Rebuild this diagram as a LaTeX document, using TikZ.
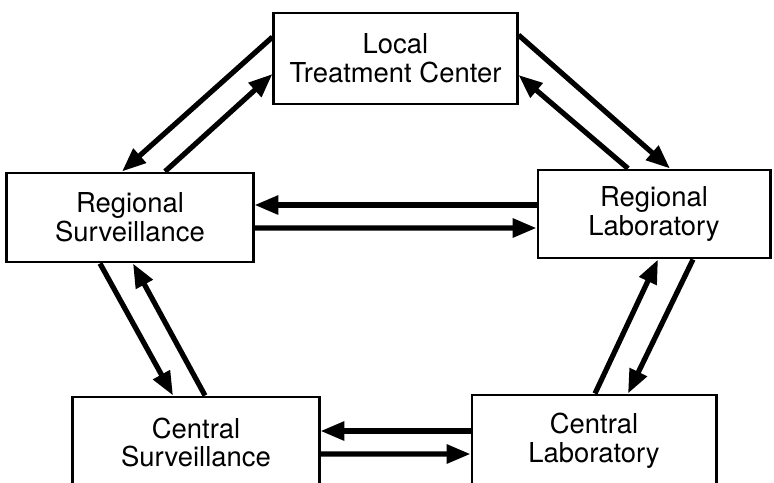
\documentclass[tikz,border=0pt]{standalone}
\usepackage{fontspec}
\setmainfont{TeX Gyre Heros}
\usetikzlibrary{arrows.meta,calc}

\begin{document}
\begin{tikzpicture}[x=0.025cm,y=-0.025cm,
    unit/.style={draw,line width=2.1pt,align=center,inner sep=0pt,
      font=\fontsize{19.5}{20.5}\selectfont},
    arr/.style={line width=3.7pt,-{Triangle[length=17pt,width=13pt]}}]
      \useasboundingbox (0,0) rectangle (774,482);
      \clip (0,0) rectangle (774,482);
      \node[unit,minimum width=6.075cm,minimum height=2.275cm] (lt) at (395.5,58.5) {Local\\Treatment Center};
      \node[unit,minimum width=6.15cm,minimum height=2.225cm] (rs) at (130,217.5) {Regional\\Surveillance};
      \node[unit,minimum width=5.8cm,minimum height=2.2cm] (rl) at (654,214) {Regional\\Laboratory};
      \node[unit,minimum width=6.15cm,minimum height=2.275cm] (cs) at (196,442.5) {Central\\Surveillance};
      \node[unit,minimum width=6.1cm,minimum height=2.3cm] (cl) at (594,441) {Central\\Laboratory};
      \draw[arr] ($(lt.west)+(0,-21.5)$)--($(rs.north)+(-8,0)$);
      \draw[arr] ($(rs.north)+(35,0)$)--($(lt.west)+(0,15.5)$);
      \draw[arr] ($(lt.east)+(0,-23.5)$)--($(rl.north)+(16,0)$);
      \draw[arr] ($(rl.north)+(-26,0)$)--($(lt.east)+(0,16.5)$);
      \draw[arr] ($(rl.west)+(0,-9)$)--($(rs.east)+(0,-12.5)$);
      \draw[arr] ($(rs.east)+(0,10.5)$)--($(rl.west)+(0,14)$);
      \draw[arr] ($(rs.south)+(-30,0)$)--($(cs.north)+(-23,0)$);
      \draw[arr] ($(cs.north)+(9,0)$)--($(rs.south)+(3,0)$);
      \draw[arr] ($(cl.north)+(1,0)$)--($(rl.south)+(4,0)$);
      \draw[arr] ($(rl.south)+(39,0)$)--($(cl.north)+(34,0)$);
      \draw[arr] ($(cl.west)+(0,-10)$)--($(cs.east)+(0,-11.5)$);
      \draw[arr] ($(cs.east)+(0,11.5)$)--($(cl.west)+(0,13)$);
\end{tikzpicture}
\end{document}
